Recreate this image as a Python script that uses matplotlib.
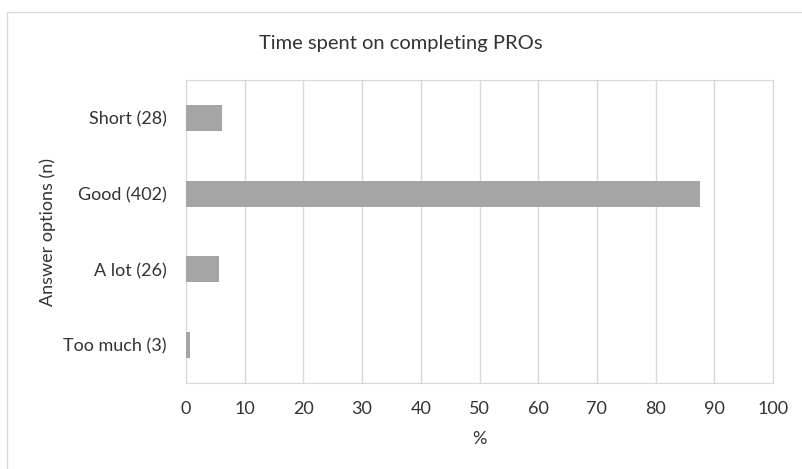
import matplotlib
matplotlib.use("Agg")
from matplotlib import pyplot as plt
from matplotlib.patches import Rectangle

categories = ["Short (28)", "Good (402)", "A lot (26)", "Too much (3)"]
counts = [28, 402, 26, 3]
percent = [100 * c / sum(counts) for c in counts]
x_ticks = list(range(0, 101, 10))

plt.rcParams['font.family'] = ['Lato', 'DejaVu Sans']

fig = plt.figure(figsize=(8.02, 4.69), dpi=100)
ax = fig.add_axes([186 / 802, 1 - 383 / 469, (773 - 186) / 802, (383 - 80) / 469])

# outer chart frame (only top and left edges fall inside the image)
fig.patches.append(Rectangle((7 / 802, -0.1), 1.2, 1 - 12 / 469 + 0.1,
                             transform=fig.transFigure, fill=False,
                             edgecolor="#d9d9d9", linewidth=1.0))

pos = list(range(len(categories)))[::-1]
ax.barh(pos, percent, height=0.34, color="#a5a5a5", zorder=3)

ax.set_xlim(0, 100)
ax.set_ylim(-0.5, 3.5)
ax.set_xticks(x_ticks)
ax.set_yticks(pos)
ax.set_yticklabels(categories)
ax.tick_params(length=0, labelsize=13, colors="#333333")
ax.tick_params(axis="y", pad=14)
ax.tick_params(axis="x", pad=13)
ax.grid(axis="x", color="#d9d9d9", linewidth=1.0, zorder=0)
for side in ax.spines.values():
    side.set_color("#d9d9d9")

ax.set_xlabel("%", fontsize=13, color="#333333", labelpad=10)
ax.set_ylabel("Answer options (n)", fontsize=13, color="#333333", labelpad=5)
fig.text(0.5, 1 - 43 / 469, "Time spent on completing PROs", ha="center",
         va="center", fontsize=14.5, color="#333333")

fig.savefig("out.png", dpi=100)
